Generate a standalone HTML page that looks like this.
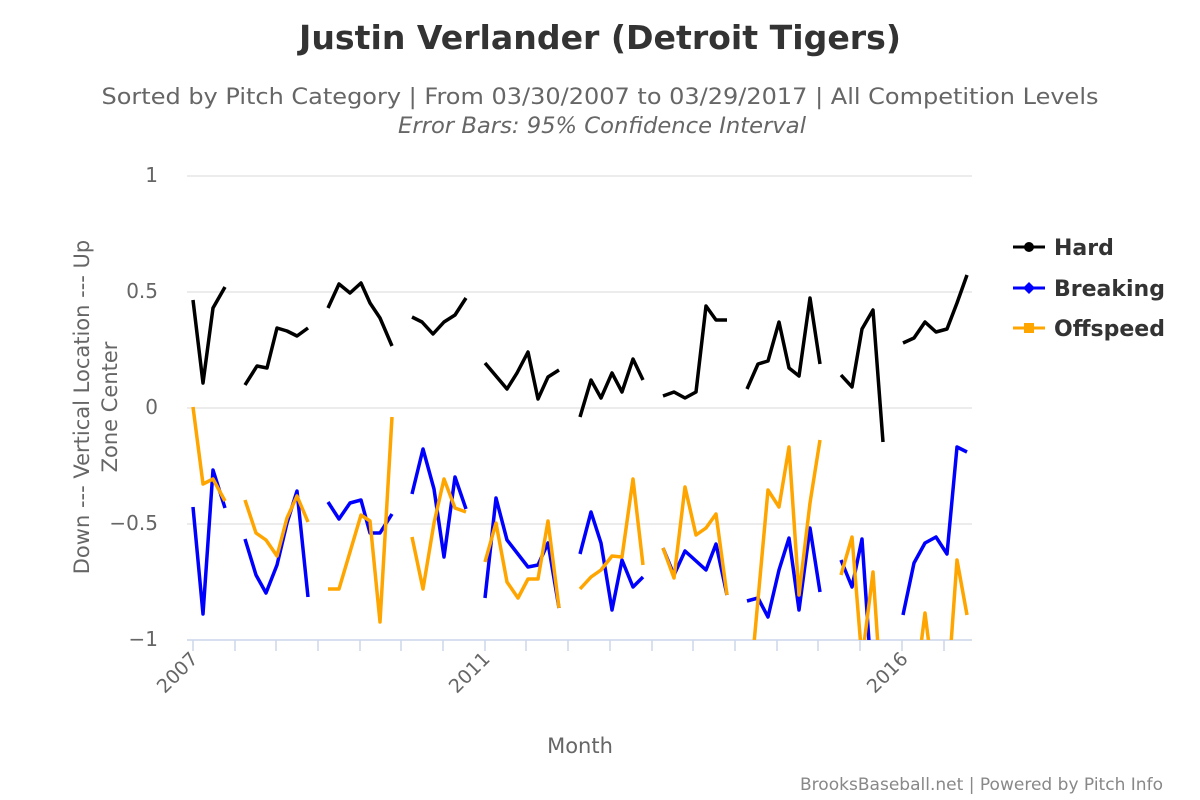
<!DOCTYPE html>
<html><head><meta charset="utf-8"><style>body{margin:0;background:#fff}svg{display:block;font-family:"Liberation Sans","DejaVu Sans",sans-serif}</style></head><body>
<svg width="1200" height="800" xmlns="http://www.w3.org/2000/svg">
<defs><clipPath id="c"><rect x="187" y="150" width="790" height="490"/></clipPath></defs>
<text x="600" y="49" text-anchor="middle" font-size="33" font-weight="bold" fill="#333" font-family="DejaVu Sans, sans-serif" textLength="602" lengthAdjust="spacingAndGlyphs">Justin Verlander (Detroit Tigers)</text>
<text x="600" y="104" text-anchor="middle" font-size="22" fill="#666" font-family="DejaVu Sans, sans-serif" textLength="997" lengthAdjust="spacingAndGlyphs">Sorted by Pitch Category | From 03/30/2007 to 03/29/2017 | All Competition Levels</text>
<text x="602" y="133" text-anchor="middle" font-size="22" font-style="italic" fill="#666" font-family="DejaVu Sans, sans-serif" textLength="408" lengthAdjust="spacingAndGlyphs">Error Bars: 95% Confidence Interval</text>
<g stroke="#e6e6e6" stroke-width="1.5"><line x1="187" x2="972" y1="176" y2="176"/><line x1="187" x2="972" y1="292" y2="292"/><line x1="187" x2="972" y1="408" y2="408"/><line x1="187" x2="972" y1="524" y2="524"/></g>
<line x1="187" x2="972" y1="640" y2="640" stroke="#ccd6eb" stroke-width="1.5"/>
<g font-size="20" fill="#666" text-anchor="end" font-family="DejaVu Sans, sans-serif"><text x="158" y="182">1</text><text x="158" y="298">0.5</text><text x="158" y="414">0</text><text x="158" y="530">−0.5</text><text x="158" y="646">−1</text></g>
<g font-size="21" fill="#666" text-anchor="middle" font-family="DejaVu Sans, sans-serif"><text transform="translate(89,407) rotate(-90)">Down --- Vertical Location --- Up</text><text transform="translate(117,407) rotate(-90)">Zone Center</text>
<text x="580" y="753">Month</text></g>
<g font-size="19" fill="#666" text-anchor="end" font-family="DejaVu Sans, sans-serif"><text transform="translate(199,660) rotate(-45)">2007</text><text transform="translate(491,660) rotate(-45)">2011</text><text transform="translate(909,660) rotate(-45)">2016</text></g>
<text x="1163" y="790" text-anchor="end" font-size="17" fill="#888" font-family="DejaVu Sans, sans-serif" textLength="363" lengthAdjust="spacingAndGlyphs">BrooksBaseball.net | Powered by Pitch Info</text>
<g clip-path="url(#c)" fill="none" stroke-width="3.5" stroke-linejoin="round">
<g stroke="#000">
<polyline points="193,300 203,383 213,308 225,287"/>
<polyline points="245,385 257,366 267,368 277,328 287,331 297,336 308,328"/>
<polyline points="328,308 339,284 350,293 361,283 370,303 380,318 392,346"/>
<polyline points="412,317 422,322 433,334 444,322 455,315 466,298"/>
<polyline points="485,363 507,389 517,373 528,352 538,399 548,377 559,370"/>
<polyline points="580,417 591,380 601,398 612,373 622,392 633,359 643,380"/>
<polyline points="663,396 674,392 685,398 696,392 706,306 716,320 727,320"/>
<polyline points="747,389 758,364 768,361 779,322 789,368 799,376 810,298 820,364"/>
<polyline points="841,375 852,387 862,329 873,310 883,442"/>
<polyline points="903,343 914,338 925,322 936,332 947,329 957,303 967,275"/>
</g>
<g stroke="#0000ff">
<polyline points="193,507 203,614 213,470 225,508"/>
<polyline points="245,539 256,575 266,593 277,565 287,523 297,491 308,597"/>
<polyline points="328,502 339,519 350,503 361,500 370,533 380,533 392,514"/>
<polyline points="412,494 423,449 434,489 444,557 455,477 466,509"/>
<polyline points="485,598 496,498 507,540 528,567 538,565 548,543 559,608"/>
<polyline points="580,554 591,512 601,543 612,610 622,560 633,587 643,577"/>
<polyline points="663,548 674,575 685,551 706,570 716,544 727,595"/>
<polyline points="747,601 758,598 768,617 779,570 789,538 799,610 810,528 820,592"/>
<polyline points="841,560 852,587 862,539 873,700"/>
<polyline points="903,615 914,563 925,543 936,537 947,554 957,447 967,452"/>
</g>
<g stroke="#ffa500">
<polyline points="193,407 203,484 213,479 225,501"/>
<polyline points="245,500 256,533 266,540 277,556 287,518 297,496 308,522"/>
<polyline points="328,589 339,589 350,552 361,515 370,521 380,622 392,417"/>
<polyline points="412,537 423,589 434,523 444,479 455,508 466,512"/>
<polyline points="485,562 496,523 507,582 518,598 528,579 538,579 548,521 559,608"/>
<polyline points="580,589 591,577 601,570 612,556 622,557 633,479 643,565"/>
<polyline points="663,548 674,578 685,487 696,535 706,528 716,514 727,595"/>
<polyline points="747,720 768,490 779,507 789,447 799,595 810,503 820,440"/>
<polyline points="841,575 852,537 862,660 873,572 883,720"/>
<polyline points="914,700 925,613 936,700 947,700 957,560 967,615"/>
</g>
</g>
<g font-size="22" font-weight="bold" fill="#333" font-family="DejaVu Sans, sans-serif">
<line x1="1013" x2="1045" y1="247" y2="247" stroke="#000" stroke-width="3"/><circle cx="1029" cy="247" r="5" fill="#000"/><text x="1054" y="255">Hard</text>
<line x1="1013" x2="1045" y1="288" y2="288" stroke="#0000ff" stroke-width="3"/><path d="M1029 282 L1035 288 L1029 294 L1023 288Z" fill="#0000ff"/><text x="1054" y="296">Breaking</text>
<line x1="1013" x2="1045" y1="328" y2="328" stroke="#ffa500" stroke-width="3"/><rect x="1024" y="323" width="10" height="10" fill="#ffa500"/><text x="1054" y="336">Offspeed</text>
</g>
<g stroke="#ccd6eb" stroke-width="1.5">
<line x1="193" x2="193" y1="640" y2="651"/><line x1="235" x2="235" y1="640" y2="651"/><line x1="276" x2="276" y1="640" y2="651"/><line x1="318" x2="318" y1="640" y2="651"/><line x1="360" x2="360" y1="640" y2="651"/><line x1="401" x2="401" y1="640" y2="651"/><line x1="443" x2="443" y1="640" y2="651"/><line x1="485" x2="485" y1="640" y2="651"/><line x1="526" x2="526" y1="640" y2="651"/><line x1="568" x2="568" y1="640" y2="651"/><line x1="610" x2="610" y1="640" y2="651"/><line x1="652" x2="652" y1="640" y2="651"/><line x1="693" x2="693" y1="640" y2="651"/><line x1="735" x2="735" y1="640" y2="651"/><line x1="777" x2="777" y1="640" y2="651"/><line x1="818" x2="818" y1="640" y2="651"/><line x1="860" x2="860" y1="640" y2="651"/><line x1="902" x2="902" y1="640" y2="651"/><line x1="944" x2="944" y1="640" y2="651"/>
</g>
</svg>
</body></html>
